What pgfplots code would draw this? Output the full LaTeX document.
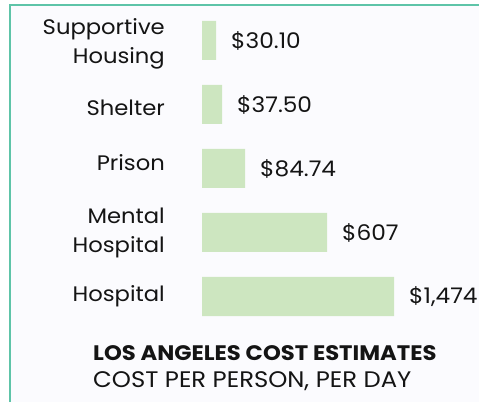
\documentclass[border=0pt]{standalone}
\usepackage{fontspec}
\setmainfont{Poppins}[FakeStretch=1.08]
\usepackage{pgfplots}
\pgfplotsset{compat=1.18}
\usepackage{pgfplotstable}
\definecolor{framec}{HTML}{5EC4A8}
\definecolor{barc}{HTML}{CDE6C0}
\definecolor{bgc}{HTML}{FBFBFE}
\definecolor{txt}{HTML}{141414}

% y: vertical position of bar centre, len: drawn bar length, cost: dollars per day
\pgfplotstableread[col sep=semicolon]{
y;len;cost;label
361.5;14;30.10;\$30.10
297.5;20;37.50;\$37.50
233.5;43;84.74;\$84.74
169.5;125;607;\$607
105.5;192;1474;\$1,474
}\data

\begin{document}
\begin{tikzpicture}[x=1pt,y=1pt]
\fill[bgc] (10,0) rectangle (479,397);
\draw[framec, line width=2pt] (10,0) -- (10,397) -- (479,397);
\begin{axis}[
  at={(0,0)}, anchor=south west,
  scale only axis, width=479pt, height=402pt,
  xmin=-202, xmax=277, ymin=0, ymax=402,
  hide axis, clip=false,
  xbar, bar width=39pt, bar shift=0pt,
  nodes near coords,
  point meta=explicit symbolic,
  every node near coord/.append style={anchor=west, inner sep=0pt, xshift=15pt, text=txt,
     font=\fontsize{21.5}{24}\selectfont},
]
\addplot[fill=barc, draw=none] table[x=len, y=y, meta=label] {\data};
\begin{scope}[every node/.style={anchor=east, inner sep=0pt, align=right, text=txt, font=\fontsize{21}{29}\selectfont}]
\node at (axis cs:-37,358.5) {Supportive\\Housing};
\node at (axis cs:-37,294) {Shelter};
\node at (axis cs:-37,239) {Prison};
\node at (axis cs:-37,169) {Mental\\Hospital};
\node at (axis cs:-37,106) {Hospital};
\end{scope}
\end{axis}
\node[anchor=base west, inner sep=0pt, text=txt, font=\fontsize{21}{22}\selectfont\bfseries] at (93,42) {LOS ANGELES COST ESTIMATES};
\node[anchor=base west, inner sep=0pt, text=txt, font=\fontsize{22.5}{24}\selectfont] at (93,15) {COST PER PERSON, PER DAY};
\pgfresetboundingbox
\path[use as bounding box] (0,0) rectangle (479,402);
\end{tikzpicture}
\end{document}
